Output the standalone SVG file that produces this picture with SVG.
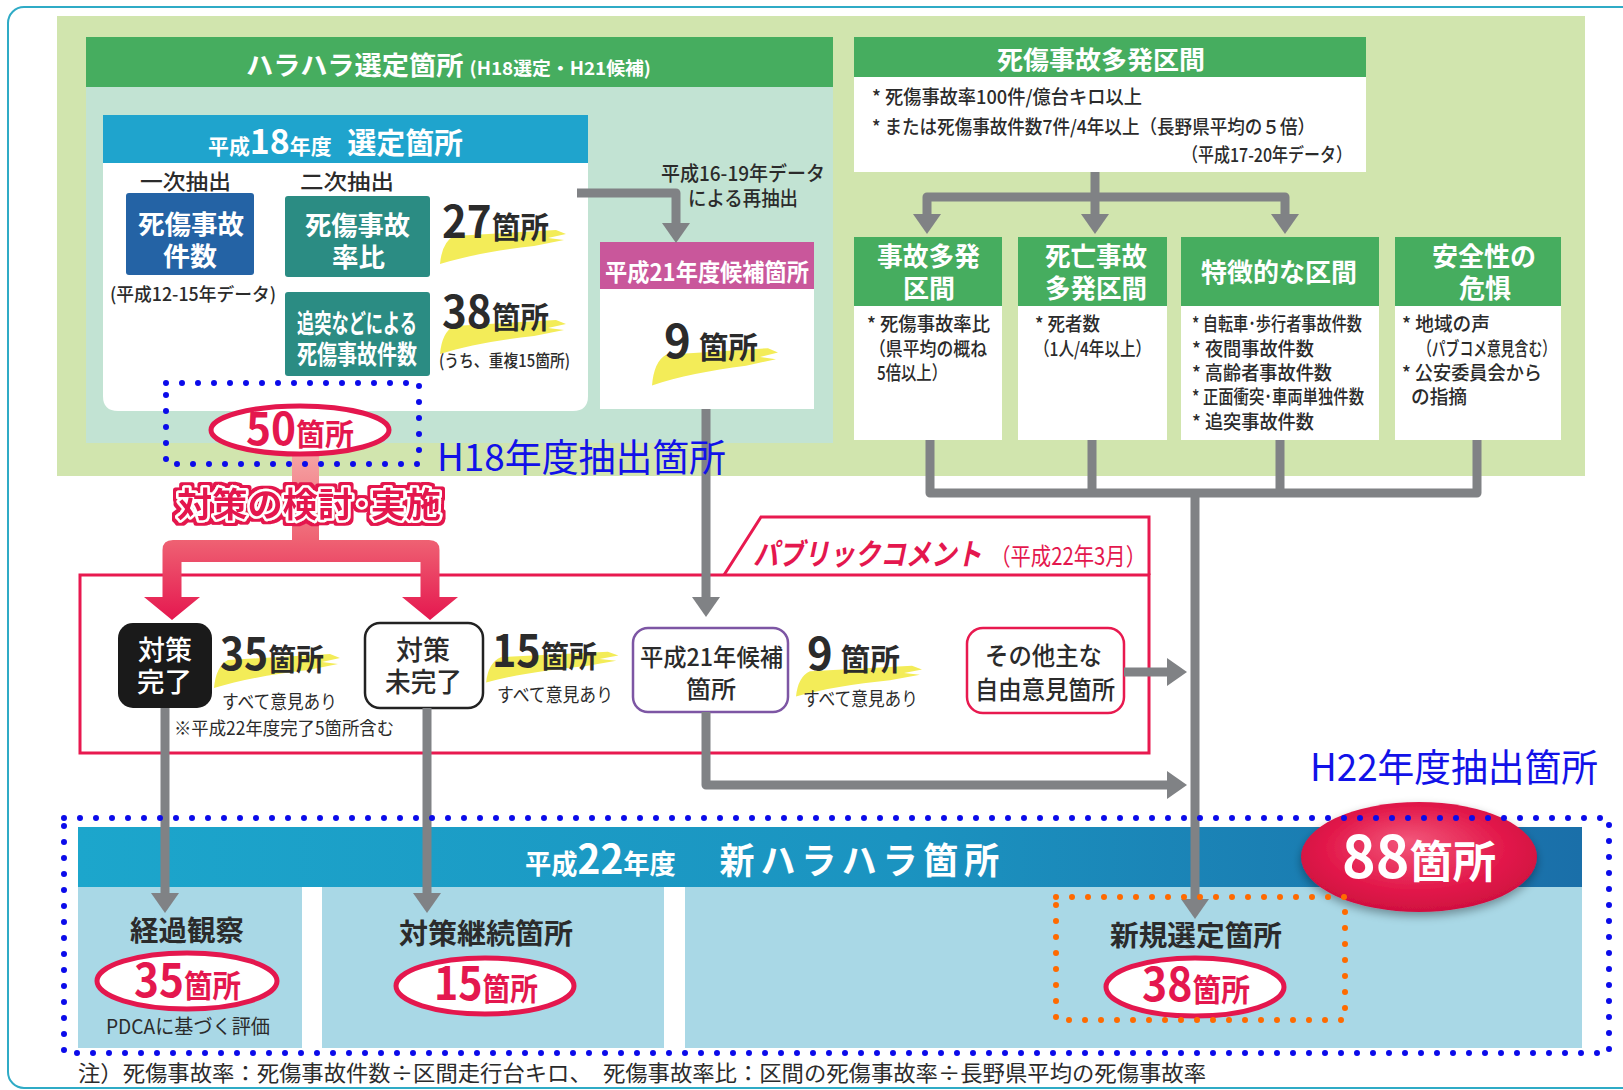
<svg xmlns="http://www.w3.org/2000/svg" width="1623" height="1090" viewBox="0 0 1623 1090">
<defs>
<style>
text{font-family:"Noto Sans CJK JP","Noto Sans",sans-serif;}
.b{font-weight:700}
.m{font-weight:500}
.n{font-weight:400}
.w{fill:#fff}
.k{fill:#2b2b2b}
.r{fill:#e4174e}
.hg{fill:#46ad5f}
.conn{fill:none;stroke:#808285;stroke-width:9;stroke-linejoin:round}
.dotb{fill:none;stroke:#0b0bea;stroke-width:6;stroke-dasharray:0 16;stroke-linecap:round}
.doto{fill:none;stroke:#ff6a00;stroke-width:6;stroke-dasharray:0 16;stroke-linecap:round}
.oval{fill:#fff;stroke:#e4174e;stroke-width:5}
.bl{fill:#1212e8;font-weight:400}
.pnl{fill:#a9d8e6}
.pc{fill:none;stroke:#e8194f;stroke-width:3}
</style>
<marker id="ah" viewBox="0 0 20 28" refX="1" refY="14" markerWidth="20" markerHeight="28" markerUnits="userSpaceOnUse" orient="auto-start-reverse"><path d="M0,0 L20,14 L0,28 Z" fill="#808285"/></marker>
<path id="brush" d="M2,36 Q4,14 16,8 L118,2 L128,6 L110,10 L126,12 L96,18 C60,22 28,28 2,36 Z" fill="#f3ec58"/>
<linearGradient id="redg" x1="0" y1="455" x2="0" y2="620" gradientUnits="userSpaceOnUse"><stop offset="0" stop-color="#f5a3a3"/><stop offset="0.5" stop-color="#ef6474"/><stop offset="1" stop-color="#e5174f"/></linearGradient>
<linearGradient id="band" x1="0" x2="1" y1="0" y2="0"><stop offset="0" stop-color="#1ca6cc"/><stop offset="0.55" stop-color="#1b93c0"/><stop offset="1" stop-color="#1a6fa9"/></linearGradient>
<radialGradient id="big" cx="0.5" cy="0.45" r="0.55" fx="0.45" fy="0.35"><stop offset="0" stop-color="#f2577a"/><stop offset="0.7" stop-color="#e2184a"/><stop offset="1" stop-color="#d01040"/></radialGradient>
<filter id="sh" x="-20%" y="-20%" width="140%" height="160%"><feGaussianBlur in="SourceAlpha" stdDeviation="5"/><feOffset dy="4"/><feComponentTransfer><feFuncA type="linear" slope="0.35"/></feComponentTransfer><feMerge><feMergeNode/><feMergeNode in="SourceGraphic"/></feMerge></filter>
<filter id="ol" x="-10%" y="-30%" width="120%" height="160%"><feMorphology in="SourceAlpha" operator="dilate" radius="2.5" result="d"/><feFlood flood-color="#e4174e"/><feComposite in2="d" operator="in" result="o"/><feMerge><feMergeNode in="o"/><feMergeNode in="SourceGraphic"/></feMerge></filter>
</defs>

<rect x="0" y="0" width="1623" height="1090" fill="#fff"/>
<rect x="8" y="7" width="1660" height="1081" rx="16" fill="#fff" stroke="#2fabc6" stroke-width="2"/>
<rect x="57" y="16" width="1528" height="460" fill="#d1e5ae"/>

<g id="harahara">
<rect x="86" y="37" width="747" height="50" class="hg"/>
<rect x="86" y="87" width="747" height="356" fill="#c2e3d3"/>
<text x="246" y="75" class="b w" textLength="405" lengthAdjust="spacingAndGlyphs"><tspan font-size="26">ハラハラ選定箇所</tspan><tspan font-size="18" dx="6">(H18選定・H21候補)</tspan></text>
</g>

<g id="h18">
<rect x="103" y="115" width="485" height="48" fill="#1fa4cd"/>
<path d="M103,163 H588 V396 Q588,411 573,411 H118 Q103,411 103,396 Z" fill="#fff"/>
<text x="208" y="154" class="b w" textLength="255" lengthAdjust="spacingAndGlyphs"><tspan font-size="21">平成</tspan><tspan font-size="34">18</tspan><tspan font-size="21">年度</tspan><tspan font-size="29" dx="16">選定箇所</tspan></text>
<text x="140" y="189" font-size="21" class="m k" textLength="91" lengthAdjust="spacingAndGlyphs">一次抽出</text>
<text x="300" y="189" font-size="21" class="m k" textLength="94" lengthAdjust="spacingAndGlyphs">二次抽出</text>
<text x="110" y="301" font-size="18" class="m k" textLength="166" lengthAdjust="spacingAndGlyphs">(平成12-15年データ)</text>
</g>

<g id="node-ichiji">
<rect x="126" y="193" width="128" height="82" rx="3" fill="#2463a5"/>
<text x="138" y="234" font-size="26" class="b w" textLength="106" lengthAdjust="spacingAndGlyphs">死傷事故</text>
<text x="163" y="266" font-size="26" class="b w" textLength="54" lengthAdjust="spacingAndGlyphs">件数</text>
</g>

<g id="node-ritsuhi">
<rect x="285" y="196" width="145" height="81" rx="3" fill="#2b8c83"/>
<text x="305" y="235" font-size="26" class="b w" textLength="105" lengthAdjust="spacingAndGlyphs">死傷事故</text>
<text x="332" y="267" font-size="26" class="b w" textLength="53" lengthAdjust="spacingAndGlyphs">率比</text>
<use href="#brush" transform="translate(438,228)"/>
<text x="442" y="238" class="b k" textLength="107" lengthAdjust="spacingAndGlyphs"><tspan font-size="44">27</tspan><tspan font-size="30">箇所</tspan></text>
</g>

<g id="node-tsuitotsu">
<rect x="285" y="292" width="145" height="84" rx="3" fill="#2b8c83"/>
<text x="297" y="333" font-size="26" class="b w" textLength="120" lengthAdjust="spacingAndGlyphs">追突などによる</text>
<text x="297" y="364" font-size="26" class="b w" textLength="120" lengthAdjust="spacingAndGlyphs">死傷事故件数</text>
<use href="#brush" transform="translate(438,318)"/>
<text x="442" y="328" class="b k" textLength="107" lengthAdjust="spacingAndGlyphs"><tspan font-size="44">38</tspan><tspan font-size="30">箇所</tspan></text>
<text x="439" y="367" font-size="17" class="m k" textLength="131" lengthAdjust="spacingAndGlyphs">(うち、重複15箇所)</text>
</g>

<g id="node-h21">
<rect x="600" y="242" width="214" height="47" fill="#c9579b"/>
<rect x="600" y="289" width="214" height="120" fill="#fff"/>
<text x="605" y="281" font-size="24" class="b w" textLength="204" lengthAdjust="spacingAndGlyphs">平成21年度候補箇所</text>
<use href="#brush" transform="translate(650,346) scale(1,1.1)"/>
<text x="664" y="358" class="b k" textLength="94" lengthAdjust="spacingAndGlyphs"><tspan font-size="46">9</tspan><tspan font-size="30" dx="8">箇所</tspan></text>
</g>
<text x="661" y="181" font-size="20" class="m k" textLength="164" lengthAdjust="spacingAndGlyphs">平成16-19年データ</text>
<text x="688" y="206" font-size="20" class="m k" textLength="110" lengthAdjust="spacingAndGlyphs">による再抽出</text>

<g id="node-tahatsu">
<rect x="854" y="37" width="512" height="40" class="hg"/>
<rect x="854" y="77" width="512" height="95" fill="#fff"/>
<text x="997" y="69" font-size="25" class="b w" textLength="208" lengthAdjust="spacingAndGlyphs">死傷事故多発区間</text>
<text x="872" y="104" font-size="19" class="m k" textLength="270" lengthAdjust="spacingAndGlyphs">* 死傷事故率100件/億台キロ以上</text>
<text x="872" y="134" font-size="19" class="m k" textLength="443" lengthAdjust="spacingAndGlyphs">* または死傷事故件数7件/4年以上（長野県平均の５倍）</text>
<text x="1182" y="162" font-size="19" class="m k" textLength="170" lengthAdjust="spacingAndGlyphs">（平成17-20年データ）</text>
</g>

<g id="node-jiko">
<rect x="854" y="237" width="148" height="69" class="hg"/>
<rect x="854" y="306" width="148" height="134" fill="#fff"/>
<text x="877" y="266" font-size="26" class="b w" textLength="103" lengthAdjust="spacingAndGlyphs">事故多発</text>
<text x="903" y="298" font-size="26" class="b w" textLength="52" lengthAdjust="spacingAndGlyphs">区間</text>
<text x="867" y="331" font-size="19" class="m k" textLength="123" lengthAdjust="spacingAndGlyphs">* 死傷事故率比</text>
<text x="869" y="356" font-size="19" class="m k" textLength="118" lengthAdjust="spacingAndGlyphs">（県平均の概ね</text>
<text x="877" y="380" font-size="19" class="m k" textLength="70" lengthAdjust="spacingAndGlyphs">5倍以上）</text>
</g>

<g id="node-shibou">
<rect x="1018" y="237" width="149" height="69" class="hg"/>
<rect x="1018" y="306" width="149" height="134" fill="#fff"/>
<text x="1045" y="266" font-size="26" class="b w" textLength="102" lengthAdjust="spacingAndGlyphs">死亡事故</text>
<text x="1045" y="298" font-size="26" class="b w" textLength="102" lengthAdjust="spacingAndGlyphs">多発区間</text>
<text x="1035" y="331" font-size="19" class="m k" textLength="65" lengthAdjust="spacingAndGlyphs">* 死者数</text>
<text x="1034" y="356" font-size="19" class="m k" textLength="117" lengthAdjust="spacingAndGlyphs">（1人/4年以上）</text>
</g>

<g id="node-tokucho">
<rect x="1181" y="237" width="198" height="69" class="hg"/>
<rect x="1181" y="306" width="198" height="134" fill="#fff"/>
<text x="1201" y="282" font-size="26" class="b w" textLength="156" lengthAdjust="spacingAndGlyphs">特徴的な区間</text>
<text x="1192" y="331" font-size="19" class="m k" textLength="170" lengthAdjust="spacingAndGlyphs">* 自転車･歩行者事故件数</text>
<text x="1192" y="356" font-size="19" class="m k" textLength="122" lengthAdjust="spacingAndGlyphs">* 夜間事故件数</text>
<text x="1192" y="380" font-size="19" class="m k" textLength="140" lengthAdjust="spacingAndGlyphs">* 高齢者事故件数</text>
<text x="1192" y="404" font-size="19" class="m k" textLength="172" lengthAdjust="spacingAndGlyphs">* 正面衝突･車両単独件数</text>
<text x="1192" y="429" font-size="19" class="m k" textLength="122" lengthAdjust="spacingAndGlyphs">* 追突事故件数</text>
</g>

<g id="node-anzen">
<rect x="1395" y="237" width="166" height="69" class="hg"/>
<rect x="1395" y="306" width="166" height="134" fill="#fff"/>
<text x="1432" y="266" font-size="26" class="b w" textLength="104" lengthAdjust="spacingAndGlyphs">安全性の</text>
<text x="1459" y="298" font-size="26" class="b w" textLength="52" lengthAdjust="spacingAndGlyphs">危惧</text>
<text x="1402" y="331" font-size="19" class="m k" textLength="88" lengthAdjust="spacingAndGlyphs">* 地域の声</text>
<text x="1418" y="356" font-size="19" class="m k" textLength="138" lengthAdjust="spacingAndGlyphs">（パブコメ意見含む）</text>
<text x="1402" y="380" font-size="19" class="m k" textLength="140" lengthAdjust="spacingAndGlyphs">* 公安委員会から</text>
<text x="1411" y="404" font-size="19" class="m k" textLength="56" lengthAdjust="spacingAndGlyphs">の指摘</text>
</g>

<g id="pubcom">
<rect x="80" y="575" width="1069" height="178" class="pc"/>
<path d="M724,575 L761,517 H1149 V575" class="pc"/>
<text x="753" y="565" class="r" textLength="393" lengthAdjust="spacingAndGlyphs"><tspan font-size="30" class="b" font-style="italic">パブリックコメント</tspan><tspan font-size="24" class="n" dx="10">（平成22年3月）</tspan></text>
</g>

<g id="node-kanryo">
<rect x="118" y="623" width="94" height="85" rx="15" fill="#1a1a1a"/>
<text x="138" y="660" font-size="27" class="m w" textLength="54" lengthAdjust="spacingAndGlyphs">対策</text>
<text x="137" y="692" font-size="27" class="m w" textLength="55" lengthAdjust="spacingAndGlyphs">完了</text>
<use href="#brush" transform="translate(212,652)"/>
<text x="220" y="670" class="b k" textLength="104" lengthAdjust="spacingAndGlyphs"><tspan font-size="44">35</tspan><tspan font-size="30">箇所</tspan></text>
<text x="222" y="709" font-size="19" class="n k" textLength="115" lengthAdjust="spacingAndGlyphs">すべて意見あり</text>
<text x="174" y="735" font-size="18" class="n k" textLength="220" lengthAdjust="spacingAndGlyphs">※平成22年度完了5箇所含む</text>
</g>

<g id="node-mikanryo">
<rect x="365" y="623" width="118" height="85" rx="15" fill="#fff" stroke="#222" stroke-width="2.5"/>
<text x="396" y="660" font-size="27" class="m k" textLength="54" lengthAdjust="spacingAndGlyphs">対策</text>
<text x="385" y="692" font-size="27" class="m k" textLength="77" lengthAdjust="spacingAndGlyphs">未完了</text>
<use href="#brush" transform="translate(484,650) scale(1.05,0.9)"/>
<text x="492" y="667" class="b k" textLength="105" lengthAdjust="spacingAndGlyphs"><tspan font-size="44">15</tspan><tspan font-size="30">箇所</tspan></text>
<text x="497" y="702" font-size="19" class="n k" textLength="116" lengthAdjust="spacingAndGlyphs">すべて意見あり</text>
</g>

<g id="node-h21kouho">
<rect x="633" y="628" width="155" height="84" rx="15" fill="#fff" stroke="#7d56a4" stroke-width="2.5"/>
<text x="640" y="666" font-size="24" class="m k" textLength="143" lengthAdjust="spacingAndGlyphs">平成21年候補</text>
<text x="686" y="698" font-size="24" class="m k" textLength="50" lengthAdjust="spacingAndGlyphs">箇所</text>
<use href="#brush" transform="translate(794,664) scale(1,0.9)"/>
<text x="807" y="670" class="b k" textLength="93" lengthAdjust="spacingAndGlyphs"><tspan font-size="44">9</tspan><tspan font-size="30" dx="8">箇所</tspan></text>
<text x="803" y="706" font-size="19" class="n k" textLength="115" lengthAdjust="spacingAndGlyphs">すべて意見あり</text>
</g>

<g id="node-sonota">
<rect x="967" y="628" width="157" height="85" rx="16" fill="#fff" stroke="#e8194f" stroke-width="2.5"/>
<text x="985" y="665" font-size="25" class="m k" textLength="117" lengthAdjust="spacingAndGlyphs">その他主な</text>
<text x="975" y="699" font-size="25" class="m k" textLength="140" lengthAdjust="spacingAndGlyphs">自由意見箇所</text>
</g>

<g id="node-h22">
<rect x="78" y="827" width="1504" height="60" fill="url(#band)"/>
<rect x="78" y="887" width="224" height="161" class="pnl"/>
<rect x="322" y="887" width="342" height="161" class="pnl"/>
<rect x="685" y="887" width="897" height="161" class="pnl"/>
<text x="525" y="874" class="b w" textLength="480" lengthAdjust="spacingAndGlyphs"><tspan font-size="27">平成</tspan><tspan font-size="40">22</tspan><tspan font-size="27">年度</tspan><tspan font-size="36" dx="45" letter-spacing="6">新ハラハラ箇所</tspan></text>
</g>

<g id="connectors">
<path d="M577,193 H676 V224" class="conn" marker-end="url(#ah)"/>
<path d="M706,409 V598" class="conn" marker-end="url(#ah)"/>
<path d="M1095,172 V215" class="conn" marker-end="url(#ah)"/>
<path d="M927,215 V197 H1285 V215" class="conn" marker-start="url(#ah)" marker-end="url(#ah)"/>
<path d="M930,440 V493 H1477 V440" class="conn"/>
<path d="M1092,440 V493 M1280,440 V493" class="conn"/>
<path d="M1195,493 V900" class="conn" marker-end="url(#ah)"/>
<path d="M1124,672 H1168" class="conn" marker-end="url(#ah)"/>
<path d="M706,712 V785 H1168" class="conn" marker-end="url(#ah)"/>
<path d="M165,708 V894" class="conn" marker-end="url(#ah)"/>
<path d="M427,708 V894" class="conn" marker-end="url(#ah)"/>
<path d="M292,455 L319,455 L319,540 L429,540 Q439.5,540 439.5,550 L439.5,597 L458,597 L430,620 L402,597 L420.5,597 L420.5,562 L181.5,562 L181.5,597 L200,597 L172,620 L144,597 L162.5,597 L162.5,550 Q162.5,540 173,540 L292,540 Z" fill="url(#redg)"/>
<text x="177" y="517" font-size="34" class="b r" stroke="#fff" stroke-width="5" paint-order="stroke" stroke-linejoin="round" filter="url(#ol)" textLength="264" lengthAdjust="spacingAndGlyphs">対策の検討･実施</text>
</g>

<g id="node-50">
<ellipse cx="300" cy="430" rx="89" ry="24" class="oval"/>
<text x="246" y="445" class="b r" textLength="108" lengthAdjust="spacingAndGlyphs"><tspan font-size="44">50</tspan><tspan font-size="30">箇所</tspan></text>
</g>

<g id="node-keika">
<text x="130" y="941" font-size="28" class="b k" textLength="114" lengthAdjust="spacingAndGlyphs">経過観察</text>
<ellipse cx="187" cy="981" rx="90" ry="28" class="oval"/>
<text x="134" y="997" class="b r" textLength="107" lengthAdjust="spacingAndGlyphs"><tspan font-size="46">35</tspan><tspan font-size="31">箇所</tspan></text>
<text x="106" y="1034" font-size="20" class="n k" textLength="164" lengthAdjust="spacingAndGlyphs">PDCAに基づく評価</text>
</g>

<g id="node-keizoku">
<text x="399" y="944" font-size="28" class="b k" textLength="174" lengthAdjust="spacingAndGlyphs">対策継続箇所</text>
<ellipse cx="485" cy="986" rx="89" ry="28" class="oval"/>
<text x="434" y="1000" class="b r" textLength="104" lengthAdjust="spacingAndGlyphs"><tspan font-size="46">15</tspan><tspan font-size="31">箇所</tspan></text>
</g>

<g id="node-shinki">
<text x="1110" y="946" font-size="28" class="b k" textLength="172" lengthAdjust="spacingAndGlyphs">新規選定箇所</text>
<ellipse cx="1195" cy="987" rx="89" ry="29" class="oval"/>
<text x="1142" y="1001" class="b r" textLength="108" lengthAdjust="spacingAndGlyphs"><tspan font-size="46">38</tspan><tspan font-size="31">箇所</tspan></text>
</g>

<g id="node-88">
<ellipse cx="1419" cy="857" rx="118" ry="55" fill="url(#big)" filter="url(#sh)"/>
<text x="1342" y="878" class="b w" textLength="154" lengthAdjust="spacingAndGlyphs"><tspan font-size="58">88</tspan><tspan font-size="44">箇所</tspan></text>
</g>

<g id="highlights">
<rect x="166" y="383" width="253" height="81" class="dotb"/>
<rect x="64" y="818" width="1545" height="235" class="dotb"/>
<rect x="1056" y="897" width="289" height="123" class="doto"/>
<text x="437" y="471" font-size="38" class="bl" textLength="289" lengthAdjust="spacingAndGlyphs">H18年度抽出箇所</text>
<text x="1310" y="781" font-size="38" class="bl" textLength="288" lengthAdjust="spacingAndGlyphs">H22年度抽出箇所</text>
</g>

<text x="78" y="1081" font-size="22" class="n k" textLength="1128" lengthAdjust="spacingAndGlyphs">注）死傷事故率：死傷事故件数÷区間走行台キロ、　死傷事故率比：区間の死傷事故率÷長野県平均の死傷事故率</text>
</svg>
